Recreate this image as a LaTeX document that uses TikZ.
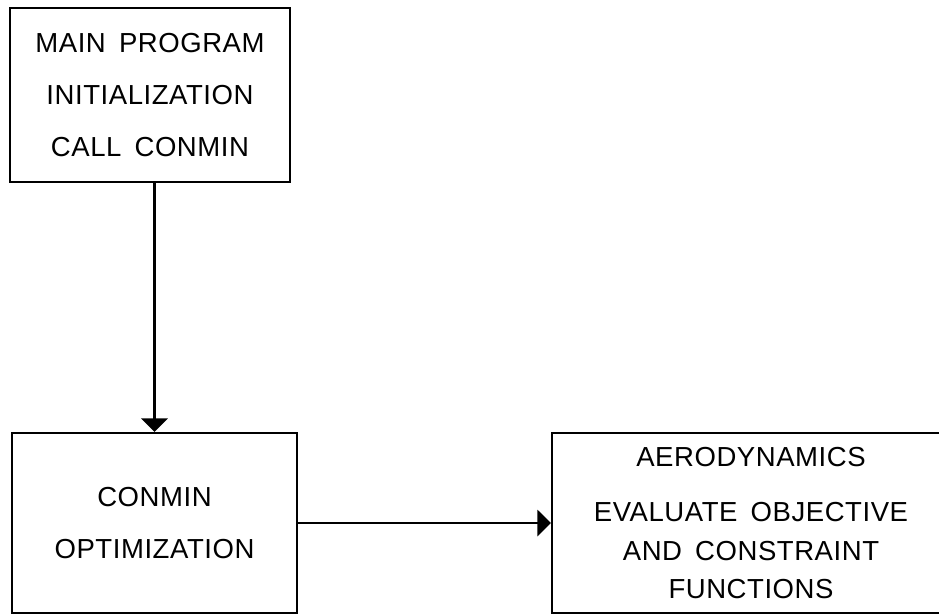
\documentclass[tikz,border=0pt]{standalone}
\usepackage{fontspec}
\setmainfont[LetterSpace=2,WordSpace=1.6]{Liberation Sans}
\usetikzlibrary{arrows.meta}

\begin{document}
\begin{tikzpicture}[x=0.03cm,y=-0.03cm,
  blockbox/.style={draw=black,line width=2pt,align=center,inner sep=0pt,
    font=\fontsize{23.5}{44}\selectfont},
  flow/.style={line width=2pt,-{Triangle[width=0.78cm,length=0.4cm]}}]
\useasboundingbox (0,0) rectangle (939,615);
\clip (0,0) rectangle (939,615);
\node [blockbox,minimum width=8.4cm,minimum height=5.22cm] (mainprog) at (150,95)
  {MAIN PROGRAM\\INITIALIZATION\\CALL CONMIN};
\node [blockbox,minimum width=8.55cm,minimum height=5.4cm] (conmin) at (154.5,523)
  {CONMIN\\OPTIMIZATION};
\node [blockbox,minimum width=11.94cm,minimum height=5.4cm,
  font=\fontsize{23.5}{33}\selectfont] (aero) at (751,523)
  {AERODYNAMICS\\[14pt]EVALUATE OBJECTIVE\\AND CONSTRAINT\\FUNCTIONS};
\draw [flow] (conmin.north |- mainprog.south) -- (conmin.north);
\draw [flow] (conmin.east) -- (aero.west);
\end{tikzpicture}
\end{document}
